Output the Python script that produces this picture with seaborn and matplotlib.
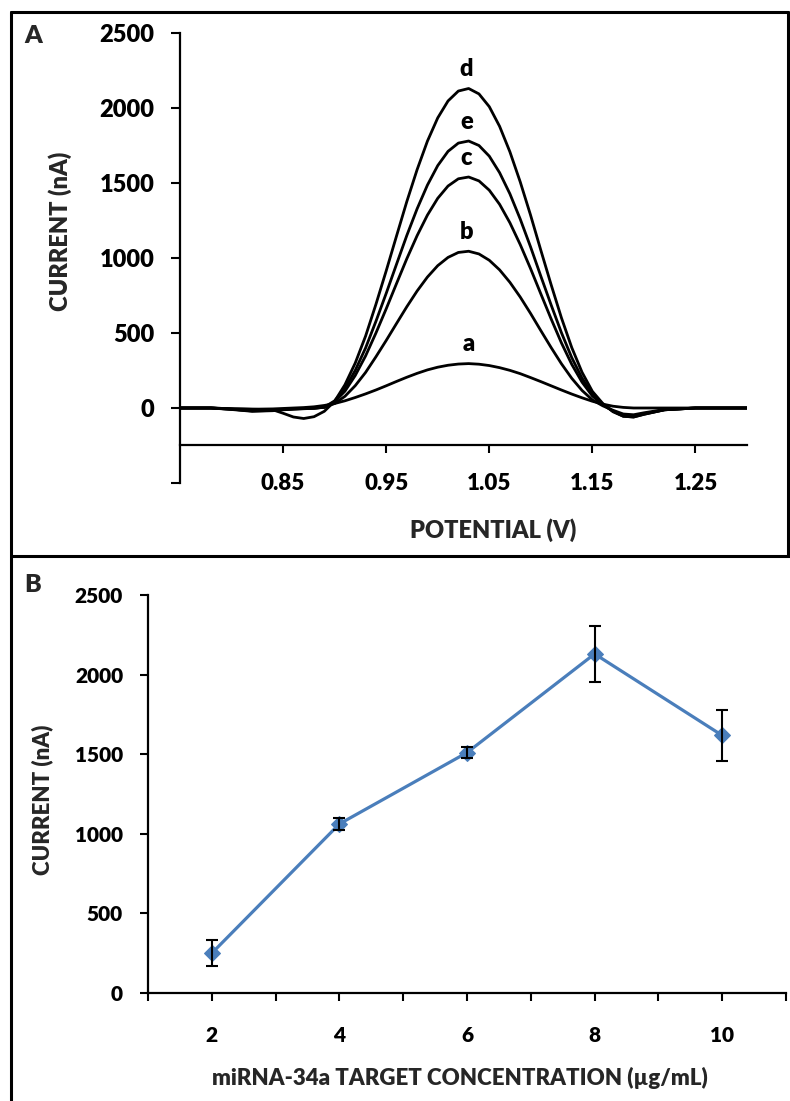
import numpy as np
import pandas as pd
import matplotlib
matplotlib.use("Agg")
import matplotlib.pyplot as plt
from matplotlib.lines import Line2D
import seaborn as sns

sns.set_theme(style="white")
plt.rcParams['font.family'] = ['Lato', 'DejaVu Sans']
FW = 'heavy'
plt.rcParams['font.weight'] = FW

# ---------------- Panel A data (potential in V, current in nA) ----------------
potential = [0.75, 0.78, 0.80, 0.82, 0.84, 0.85, 0.86, 0.87, 0.88, 0.89, 0.90,
             0.91, 0.92, 0.93, 0.94, 0.95, 0.96, 0.97, 0.98, 0.99, 1.00,
             1.01, 1.02, 1.03, 1.04, 1.05, 1.06, 1.07, 1.08, 1.09, 1.10,
             1.11, 1.12, 1.13, 1.14, 1.15, 1.16, 1.17, 1.18, 1.19, 1.20,
             1.22, 1.25, 1.30]
curve_a = [0, 0, -5, -8, -6, -3, 0, 3, 8, 17, 30,
           48, 70, 94, 120, 148, 177, 205, 231, 254, 272,
           285, 293, 296, 292, 283, 269, 251, 229, 203, 176,
           148, 120, 93, 68, 45, 26, 12, 4, 0, 0,
           0, 0, 0]
curve_b = [0, 0, -8, -18, -15, -10, -6, -3, 0, 5, 30,
           78, 149, 237, 341, 450, 563, 675, 780, 873, 949,
           1004, 1037, 1045, 1027, 985, 921, 838, 740, 631, 516,
           403, 295, 198, 117, 54, 15, -15, -40, -45, -32,
           -10, 0, 0]
curve_c = [0, 0, -10, -22, -18, -12, -8, -5, -2, 5, 42,
           112, 217, 347, 499, 661, 829, 995, 1149, 1286, 1398,
           1480, 1528, 1540, 1514, 1452, 1358, 1235, 1090, 930, 761,
           594, 434, 291, 172, 80, 22, -20, -50, -55, -38,
           -12, 0, 0]
curve_d = [0, 0, -5, -8, -12, -35, -60, -70, -58, -22, 45,
           155, 300, 479, 690, 914, 1146, 1376, 1589, 1779, 1934,
           2047, 2113, 2130, 2094, 2009, 1878, 1708, 1508, 1287, 1052,
           822, 601, 403, 238, 111, 31, -25, -55, -60, -42,
           -12, 0, 0]
curve_e = [0, 0, -8, -20, -16, -10, -6, -4, -2, 5, 48,
           130, 251, 400, 577, 764, 958, 1150, 1328, 1486, 1616,
           1711, 1766, 1780, 1750, 1679, 1569, 1428, 1260, 1075, 879,
           687, 502, 336, 199, 93, 26, -22, -55, -60, -42,
           -12, 0, 0]
curve_names = ['a', 'b', 'c', 'd', 'e']
peak_potential = [1.030, 1.028, 1.028, 1.028, 1.028]
peak_current = [296, 1045, 1540, 2130, 1780]

a_xticks = [0.85, 0.95, 1.05, 1.15, 1.25]
a_yticks = [-500, 0, 500, 1000, 1500, 2000, 2500]

# ---------------- Panel B data ----------------
concentration = [2, 4, 6, 8, 10]
current_b = [250, 1062, 1510, 2130, 1618]
error_b = [82, 35, 35, 177, 160]
b_xticks = [1, 2, 3, 4, 5, 6, 7, 8, 9, 10, 11]
b_yticks = [0, 500, 1000, 1500, 2000, 2500]

W, H = 790, 1101
fig = plt.figure(figsize=(W / 100, H / 100), dpi=100)

def fx(px):
    return px / W

def fy(py):
    return 1 - py / H

# ---------------- Panel A ----------------
axA = fig.add_axes([fx(180), fy(483), fx(747) - fx(180), fy(33) - fy(483)])
df = pd.DataFrame({'potential': potential, 'a': curve_a, 'b': curve_b,
                   'c': curve_c, 'd': curve_d, 'e': curve_e})
for name in curve_names:
    sns.lineplot(data=df, x='potential', y=name, ax=axA, color='black',
                 linewidth=2.0, sort=False)
for name, px, py in zip(curve_names, peak_potential, peak_current):
    axA.text(px, py + 55, name, ha='center', va='bottom', fontsize=17,
             fontweight=FW, color='black')

axA.set_xlim(0.75, 1.30)
axA.set_ylim(-500, 2500)
for s in ['top', 'right']:
    axA.spines[s].set_visible(False)
axA.spines['bottom'].set_position(('data', -250))
for s in ['left', 'bottom']:
    axA.spines[s].set_color('black')
    axA.spines[s].set_linewidth(1.6)
axA.set_xticks(a_xticks)
axA.set_xticklabels([f"{v:.2f}" for v in a_xticks])
axA.set_yticks(a_yticks)
axA.set_yticklabels(["" if v < 0 else str(v) for v in a_yticks])
axA.tick_params(axis='y', direction='out', length=6.5, width=1.5, pad=12,
                labelsize=17, colors='black', left=True)
axA.tick_params(axis='x', direction='out', length=6, width=1.5, pad=14,
                labelsize=16, colors='black', bottom=True)
axA.set_xlabel('POTENTIAL (V)', fontsize=17, fontweight=FW)
axA.set_ylabel('CURRENT (nA)', fontsize=17, fontweight=FW)
axA.xaxis.set_label_coords(0.552, -0.104)
axA.yaxis.set_label_coords(-0.2116, 0.56)
axA.xaxis.label.set_va('center')
axA.yaxis.label.set_va('center')
axA.grid(False)

# ---------------- Panel B ----------------
axB = fig.add_axes([fx(148), fy(993), fx(786) - fx(148), fy(595) - fy(993)])
dfb = pd.DataFrame({'conc': concentration, 'cur': current_b, 'err': error_b})
sns.lineplot(data=dfb, x='conc', y='cur', ax=axB, color='#4A7EBB',
             linewidth=2.3, marker='D', markersize=8, markeredgecolor='#4A7EBB')
axB.errorbar(dfb['conc'], dfb['cur'], yerr=dfb['err'], fmt='none',
             ecolor='black', elinewidth=1.5, capsize=4, capthick=1.5, zorder=5)
axB.set_xlim(1, 11)
axB.set_ylim(0, 2500)
for s in ['top', 'right']:
    axB.spines[s].set_visible(False)
for s in ['left', 'bottom']:
    axB.spines[s].set_color('black')
    axB.spines[s].set_linewidth(1.6)
axB.set_xticks(b_xticks)
axB.set_xticklabels([str(v) if v % 2 == 0 else "" for v in b_xticks])
axB.set_yticks(b_yticks)
axB.set_yticklabels([str(v) for v in b_yticks])
axB.tick_params(axis='y', direction='out', length=6, width=1.5, pad=12,
                labelsize=15, colors='black', left=True)
axB.tick_params(axis='x', direction='out', length=6, width=1.5, pad=18,
                labelsize=15, colors='black', bottom=True)
axB.set_xlabel('miRNA-34a TARGET CONCENTRATION (µg/mL)', fontsize=16,
               fontweight=FW)
axB.set_ylabel('CURRENT (nA)', fontsize=16, fontweight=FW)
axB.xaxis.set_label_coords(0.489, -0.2136)
axB.yaxis.set_label_coords(-0.166, 0.485)
axB.xaxis.label.set_va('center')
axB.yaxis.label.set_va('center')
axB.grid(False)

# ---------------- Panel letters & frame ----------------
fig.text(fx(24), fy(36), 'A', fontsize=18, fontweight=FW, va='center', ha='left')
fig.text(fx(24), fy(585), 'B', fontsize=18, fontweight=FW, va='center', ha='left')

lw = 2.2
fig.add_artist(Line2D([fx(11), fx(788)], [fy(12), fy(12)], color='black', lw=lw))
fig.add_artist(Line2D([fx(11), fx(11)], [fy(12), fy(1101)], color='black', lw=lw))
fig.add_artist(Line2D([fx(788), fx(788)], [fy(12), fy(556)], color='black', lw=lw))
fig.add_artist(Line2D([fx(11), fx(790)], [fy(556), fy(556)], color='black', lw=lw))

fig.savefig('out.png', dpi=100, facecolor='white')
